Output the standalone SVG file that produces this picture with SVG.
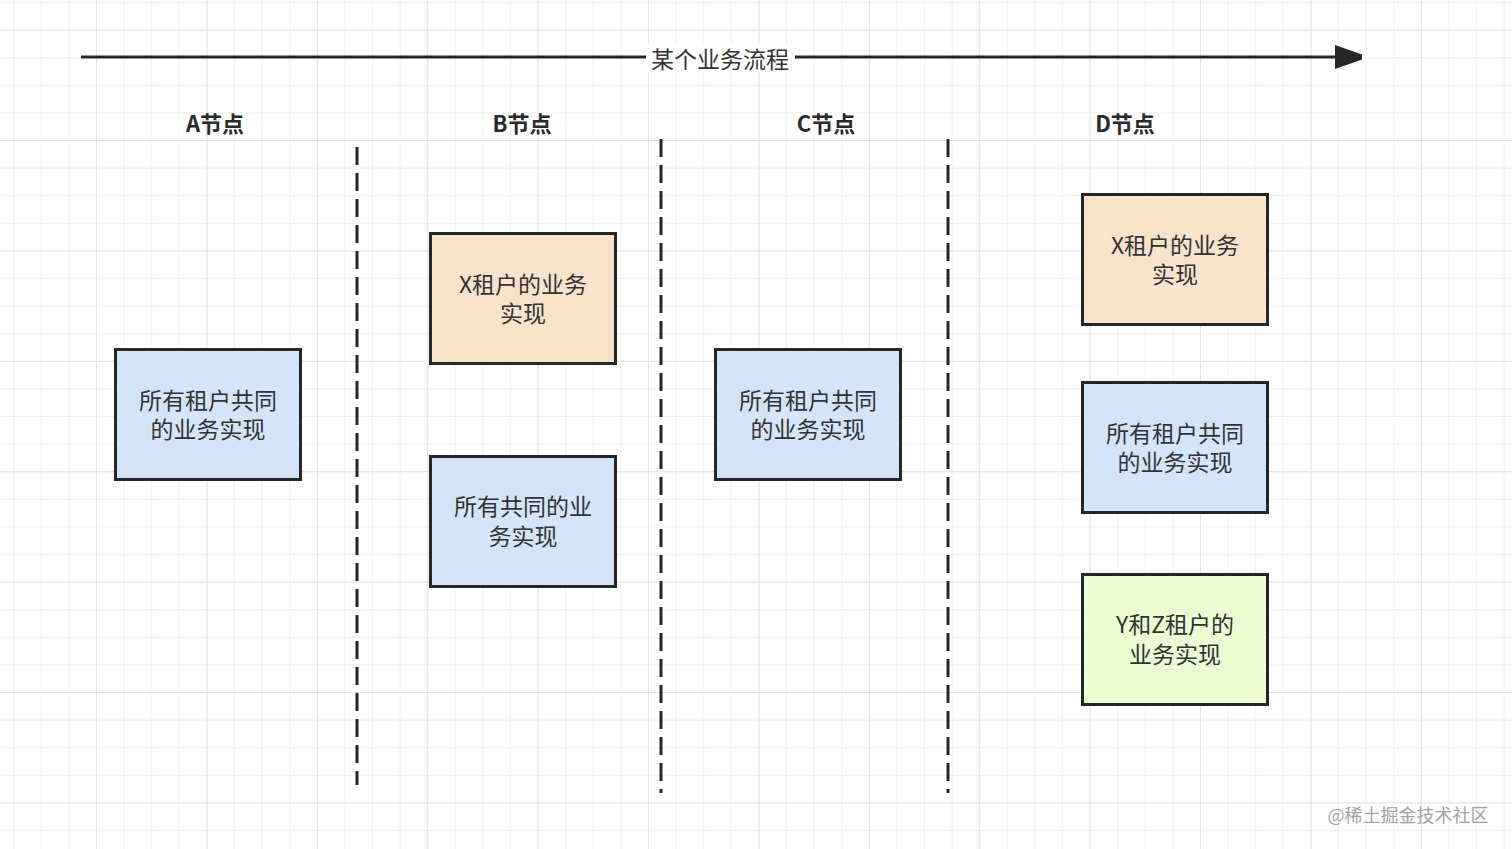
<svg xmlns="http://www.w3.org/2000/svg" width="1512" height="849" viewBox="0 0 1512 849">
<defs>
<pattern id="minor" x="-13.4" y="30.6" width="27.6" height="27.6" patternUnits="userSpaceOnUse">
<path d="M27.6 0V27.6M0 27.6H27.6" fill="none" stroke="#ebebeb" stroke-width="1.3"/>
</pattern>
<pattern id="major" x="-13.4" y="30.6" width="110.4" height="110.4" patternUnits="userSpaceOnUse">
<path d="M110.4 0V110.4M0 110.4H110.4" fill="none" stroke="#e0e0e0" stroke-width="1.7"/>
</pattern>
<marker id="arrow" markerWidth="10" markerHeight="8" refX="9" refY="4" orient="auto" markerUnits="strokeWidth">
<path d="M0 0L9 3.2V4.8L0 8Z" fill="#262626"/>
</marker>
<style>
.box{stroke:#262626;stroke-width:3}
.blue{fill:#d3e5fb}
.orange{fill:#fae3cb}
.green{fill:#ebfbd2}
.t{font-family:"Noto Sans CJK SC","Noto Sans",sans-serif;font-size:23px;fill:#333;text-anchor:middle}
.h{font-family:"Noto Sans CJK SC","Noto Sans",sans-serif;font-size:22px;font-weight:bold;fill:#2a2a2a;text-anchor:middle}
.dash{stroke:#262626;stroke-width:3;stroke-dasharray:18 8;fill:none}
</style>
</defs>
<rect width="1512" height="849" fill="#ffffff"/>
<rect width="1512" height="849" fill="url(#minor)"/>
<rect width="1512" height="849" fill="url(#major)"/>

<g id="connectors">
<line x1="81" y1="57" x2="1362" y2="57" stroke="#262626" stroke-width="3" marker-end="url(#arrow)"/>
<line class="dash" x1="357" y1="147" x2="357" y2="785"/>
<line class="dash" x1="661" y1="139" x2="661" y2="793"/>
<line class="dash" x1="948" y1="139" x2="948" y2="793"/>
</g>

<g id="title">
<rect x="646" y="44" width="149" height="28" fill="#ffffff"/>
<text class="t" x="720" y="68">某个业务流程</text>
</g>

<g id="labels">
<text class="h" x="215" y="132">A节点</text>
<text class="h" x="522" y="132">B节点</text>
<text class="h" x="826" y="132">C节点</text>
<text class="h" x="1125" y="132">D节点</text>
</g>

<g id="a-common">
<rect class="box blue" x="115.5" y="349.5" width="185" height="130"/>
<text class="t" x="208" y="409">所有租户共同<tspan x="208" dy="29">的业务实现</tspan></text>
</g>

<g id="b-x">
<rect class="box orange" x="430.5" y="233.5" width="185" height="130"/>
<text class="t" x="523" y="293">X租户的业务<tspan x="523" dy="29">实现</tspan></text>
</g>

<g id="b-common">
<rect class="box blue" x="430.5" y="456.5" width="185" height="130"/>
<text class="t" x="523" y="515">所有共同的业<tspan x="523" dy="30">务实现</tspan></text>
</g>

<g id="c-common">
<rect class="box blue" x="715.5" y="349.5" width="185" height="130"/>
<text class="t" x="808" y="409">所有租户共同<tspan x="808" dy="29">的业务实现</tspan></text>
</g>

<g id="d-x">
<rect class="box orange" x="1082.5" y="194.5" width="185" height="130"/>
<text class="t" x="1175" y="254">X租户的业务<tspan x="1175" dy="29">实现</tspan></text>
</g>

<g id="d-common">
<rect class="box blue" x="1082.5" y="382.5" width="185" height="130"/>
<text class="t" x="1175" y="442">所有租户共同<tspan x="1175" dy="29">的业务实现</tspan></text>
</g>

<g id="d-yz">
<rect class="box green" x="1082.5" y="574.5" width="185" height="130"/>
<text class="t" x="1175" y="633">Y和Z租户的<tspan x="1175" dy="30">业务实现</tspan></text>
</g>

<text x="1408" y="822" font-family="'Noto Sans CJK SC',sans-serif" font-size="18" fill="#a3a3a3" text-anchor="middle">@稀土掘金技术社区</text>
</svg>
